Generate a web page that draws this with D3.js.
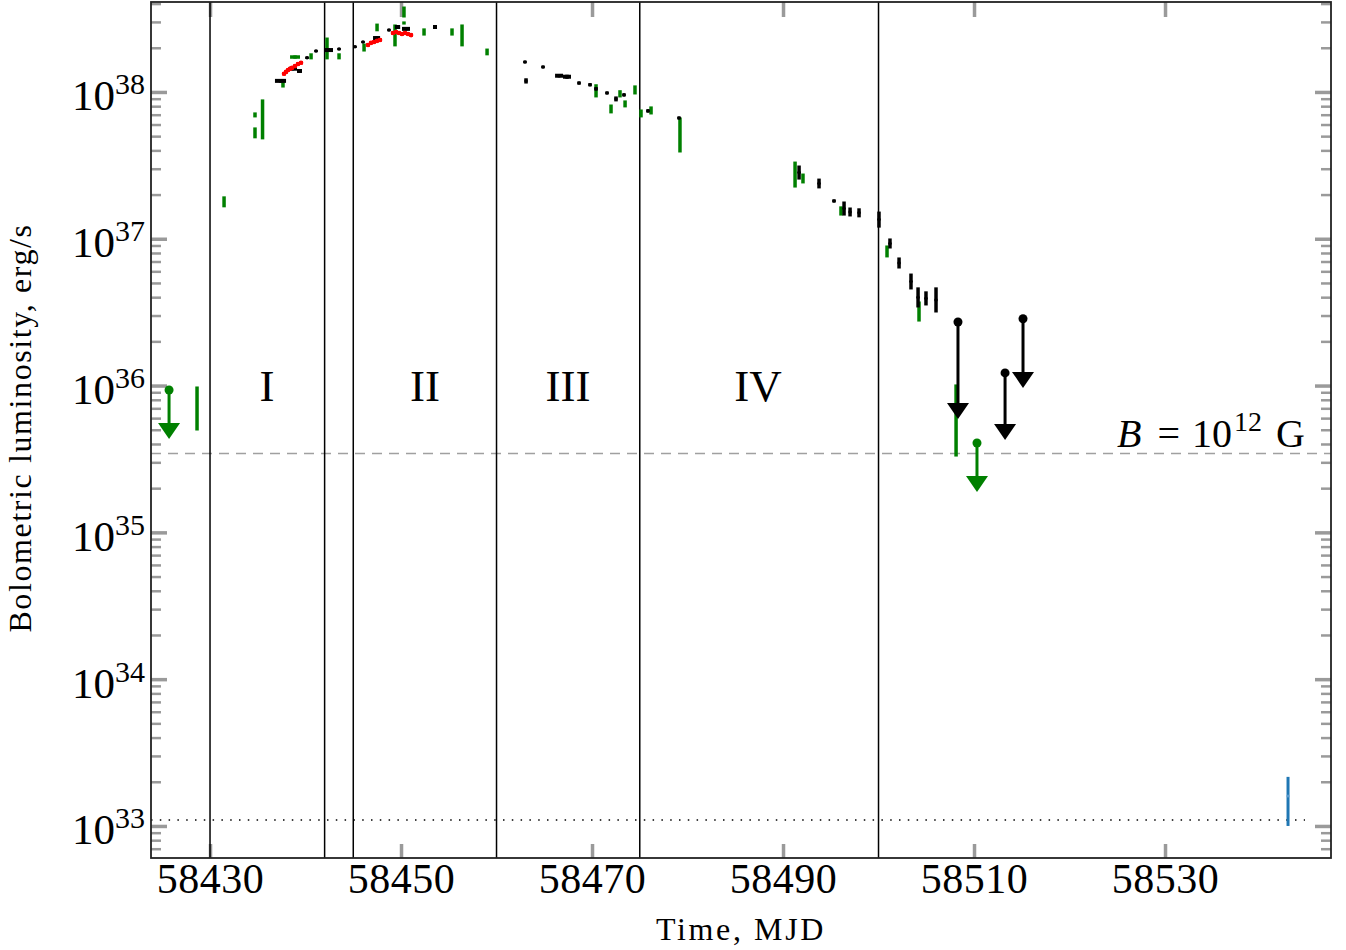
<!DOCTYPE html>
<html>
<head>
<meta charset="utf-8">
<script src="https://cdn.jsdelivr.net/npm/d3@7"></script>
<style>
body { margin: 0; background: #fff; }
#graph { width: 1346px; height: 950px; }
text { font-family: "Liberation Serif", "Times New Roman", serif; fill: #000; }
</style>
</head>
<body>
<div id="graph"></div>
<script>
// axis ranges and ticks
const xDomain = [58423.82, 58547.38];
const yDomain = [6.05e32, 4.1e38];
const xTicks = [58430, 58450, 58470, 58490, 58510, 58530];
const yDecades = [33, 34, 35, 36, 37, 38];

// outburst phases
const phaseBounds = [58430, 58442, 58445, 58460, 58475, 58500];
const phaseNames = ["I", "II", "III", "IV"];
const phaseLabelT = [58435.97, 58452.51, 58467.49, 58487.38];
const phaseLabelL = 1e36;

const bFieldL = 3.44e35;     // B = 1e12 G limit
const quiescentL = 1.1e33;   // quiescent level

// [MJD, half-width in days, L low, L high]
const greenObs = [
  [58428.64, 0, 4.98e35, 9.78e35],
  [58431.47, 0, 1.65e37, 1.93e37],
  [58434.71, 0, 6.76e37, 7.20e37],
  [58434.71, 0, 4.87e37, 5.69e37],
  [58435.50, 0, 4.79e37, 8.83e37],
  [58437.64, 0, 1.08e38, 1.19e38],
  [58438.90, 0.52, 1.70e38, 1.76e38],
  [58440.58, 0, 1.68e38, 1.82e38],
  [58442.25, 0, 1.68e38, 2.33e38],
  [58443.51, 0, 1.68e38, 1.82e38],
  [58446.13, 0, 1.90e38, 2.12e38],
  [58447.49, 0, 2.61e38, 2.90e38],
  [58449.37, 0, 2.06e38, 2.86e38],
  [58450.31, 0, 3.24e38, 3.79e38],
  [58450.31, 0, 2.90e38, 3.00e38],
  [58452.41, 0, 2.44e38, 2.69e38],
  [58455.34, 0, 2.44e38, 2.69e38],
  [58456.39, 0, 2.06e38, 2.86e38],
  [58459.01, 0, 1.79e38, 1.96e38],
  [58470.42, 0, 9.25e37, 1.12e38],
  [58471.99, 0, 7.20e37, 8.15e37],
  [58472.93, 0, 9.25e37, 1.02e38],
  [58473.46, 0, 7.91e37, 8.69e37],
  [58474.50, 0, 9.69e37, 1.10e38],
  [58475.13, 0, 6.76e37, 7.54e37],
  [58476.18, 0, 7.08e37, 7.91e37],
  [58479.21, 0, 3.90e37, 6.65e37],
  [58491.26, 0, 2.25e37, 3.33e37],
  [58492.09, 0, 2.40e37, 2.76e37],
  [58496.07, 0, 1.45e37, 1.65e37],
  [58500.89, 0, 7.52e36, 8.93e36],
  [58504.24, 0, 2.75e36, 3.71e36],
  [58508.12, 0, 3.31e35, 1.01e36]
];

const blackObs = [
  [58437.38, 0.58, 1.17e38, 1.21e38],
  [58438.69, 0.42, 1.42e38, 1.46e38],
  [58439.37, 0.26, 1.37e38, 1.41e38],
  [58440.16, 0, 1.69e38, 1.73e38],
  [58441.10, 0, 1.88e38, 1.92e38],
  [58442.41, 0.47, 1.90e38, 1.96e38],
  [58443.51, 0, 1.94e38, 1.98e38],
  [58445.18, 0, 2.01e38, 2.05e38],
  [58446.02, 0, 2.17e38, 2.21e38],
  [58447.44, 0.37, 2.30e38, 2.36e38],
  [58448.74, 0, 2.61e38, 2.67e38],
  [58449.64, 0.27, 2.74e38, 2.80e38],
  [58450.52, 0.42, 2.66e38, 2.72e38],
  [58453.56, 0.21, 2.74e38, 2.80e38],
  [58462.98, 0, 1.58e38, 1.62e38],
  [58463.09, 0, 1.15e38, 1.23e38],
  [58464.87, 0, 1.46e38, 1.50e38],
  [58466.55, 0.42, 1.27e38, 1.31e38],
  [58467.38, 0.42, 1.24e38, 1.30e38],
  [58468.64, 0, 1.13e38, 1.17e38],
  [58469.79, 0, 1.10e38, 1.14e38],
  [58470.42, 0, 1.03e38, 1.07e38],
  [58471.57, 0, 9.70e37, 1.00e38],
  [58472.51, 0, 8.69e37, 9.25e37],
  [58473.35, 0, 9.40e37, 9.70e37],
  [58475.86, 0, 7.30e37, 7.56e37],
  [58479.11, 0, 6.55e37, 6.75e37],
  [58491.68, 0, 2.55e37, 3.13e37],
  [58493.77, 0, 2.22e37, 2.55e37],
  [58495.34, 0, 1.78e37, 1.84e37],
  [58496.39, 0, 1.45e37, 1.78e37],
  [58497.02, 0, 1.43e37, 1.62e37],
  [58497.96, 0, 1.41e37, 1.60e37],
  [58500.05, 0, 1.20e37, 1.52e37],
  [58501.20, 0, 8.65e36, 9.97e36],
  [58502.15, 0, 6.32e36, 7.40e36],
  [58503.40, 0, 4.55e36, 5.75e36],
  [58504.14, 0, 3.43e36, 4.63e36],
  [58504.97, 0, 3.54e36, 4.35e36],
  [58506.02, 0, 3.17e36, 4.63e36]
];

// [MJD, L]
const redObs = [
  [58437.75, 1.33e38], [58437.96, 1.37e38], [58438.17, 1.41e38], [58438.38, 1.44e38],
  [58438.59, 1.46e38], [58438.90, 1.50e38], [58439.21, 1.55e38], [58439.53, 1.58e38],
  [58446.54, 2.09e38], [58446.86, 2.16e38], [58447.17, 2.19e38], [58447.49, 2.23e38],
  [58447.80, 2.26e38],
  [58449.16, 2.52e38], [58449.48, 2.56e38], [58449.79, 2.52e38], [58450.10, 2.48e38],
  [58450.42, 2.52e38], [58450.73, 2.48e38], [58451.05, 2.44e38]
];

// [MJD, L center, L low, L high]
const blueObs = [[58542.88, 1.60e33, 1.0e33, 2.16e33]];

// upper limits [MJD, limit, arrow end]
const greenLimits = [[58425.71, 9.33e35, 4.33e35], [58510.31, 4.06e35, 1.88e35]];
const blackLimits = [[58508.32, 2.71e36, 5.91e35], [58513.25, 1.22e36, 4.26e35], [58515.13, 2.85e36, 9.64e35]];

const GREEN = "#008000", BLUE = "#1f77b4", TICK = "#9a9a9a";

function container() { return document.querySelector("#graph"); }

const margin = {top: 2, right: 15, bottom: 92, left: 151};
const width = 1346 - margin.left - margin.right;
const height = 950 - margin.top - margin.bottom;

const x = d3.scaleLinear().domain(xDomain).range([0, width]);
const y = d3.scaleLog().domain(yDomain).range([height, 0]);

const svg = d3.select(container()).append("svg")
    .attr("width", 1346).attr("height", 950);
const g = svg.append("g").attr("transform", `translate(${margin.left},${margin.top})`);

// ticks
const majorY = yDecades.map(d => Math.pow(10, d));
const minorY = [];
for (let e = 32; e <= 38; e++) for (let m = 2; m <= 9; m++) {
    const v = m * Math.pow(10, e);
    if (v > yDomain[0] && v < yDomain[1]) minorY.push(v);
}

function styleTicks(sel, w) {
    sel.select(".domain").remove();
    sel.selectAll(".tick line").attr("stroke", TICK).attr("stroke-width", w);
}

g.append("g").call(d3.axisLeft(y).tickValues(minorY).tickSize(-10).tickFormat(""))
    .call(s => styleTicks(s, 2.5));
g.append("g").attr("transform", `translate(${width},0)`)
    .call(d3.axisRight(y).tickValues(minorY).tickSize(-10).tickFormat(""))
    .call(s => styleTicks(s, 2.5));
g.append("g").attr("transform", `translate(${width},0)`)
    .call(d3.axisRight(y).tickValues(majorY).tickSize(-16).tickFormat(""))
    .call(s => styleTicks(s, 3.5));

const yAxis = g.append("g")
    .call(d3.axisLeft(y).tickValues(majorY).tickSize(-16).tickPadding(6).tickFormat(""))
    .call(s => styleTicks(s, 3.5));
yAxis.selectAll(".tick text").each(function(d) {
    const t = d3.select(this).attr("dy", null).attr("y", 18).style("font-size", "43px");
    t.append("tspan").text("10");
    t.append("tspan").attr("dy", -16).style("font-size", "30px").text(Math.round(Math.log10(d)));
});

g.append("g").attr("transform", `translate(0,${height})`)
    .call(d3.axisBottom(x).tickValues(xTicks).tickSize(-14).tickPadding(5).tickFormat(d3.format("d")))
    .call(s => styleTicks(s, 3.5))
    .selectAll(".tick text").style("font-size", "42px").style("letter-spacing", "0.5px");
g.append("g")
    .call(d3.axisTop(x).tickValues(xTicks).tickSize(-15).tickFormat(""))
    .call(s => styleTicks(s, 3.5));

// reference lines
g.append("line")
    .attr("x1", 0).attr("x2", width)
    .attr("y1", y(bFieldL)).attr("y2", y(bFieldL))
    .attr("stroke", "#a0a0a0").attr("stroke-width", 1.5).attr("stroke-dasharray", "10,7");
g.append("line")
    .attr("x1", 0).attr("x2", width - 26)
    .attr("y1", y(quiescentL)).attr("y2", y(quiescentL))
    .attr("stroke", "#000").attr("stroke-width", 1.5).attr("stroke-dasharray", "1.5,7.3");

g.selectAll(".phase").data(phaseBounds).join("line")
    .attr("x1", d => x(d)).attr("x2", d => x(d))
    .attr("y1", 0).attr("y2", height)
    .attr("stroke", "#000").attr("stroke-width", 1.5);

g.selectAll(".phase-label").data(phaseNames).join("text")
    .attr("x", (d, i) => x(phaseLabelT[i]))
    .attr("y", y(phaseLabelL) + 15)
    .attr("text-anchor", "middle")
    .style("font-size", "45px")
    .text(d => d);

const bLabel = g.append("text")
    .attr("x", width - 26).attr("y", y(bFieldL) - 7)
    .attr("text-anchor", "end").style("font-size", "40px");
bLabel.append("tspan").style("font-style", "italic").text("B");
bLabel.append("tspan").attr("dx", 16).text("=");
bLabel.append("tspan").attr("dx", 12).text("10");
bLabel.append("tspan").attr("dy", -16).attr("dx", 2).style("font-size", "28px").text("12");
bLabel.append("tspan").attr("dy", 16).attr("dx", 14).text("G");

// error bar series
function errorBars(data, color, vw, hw, r) {
    const grp = g.append("g");
    grp.selectAll(".v").data(data).join("line")
        .attr("x1", d => x(d[0])).attr("x2", d => x(d[0]))
        .attr("y1", d => y(d[2]) + 0.5).attr("y2", d => y(d[3]) - 0.5)
        .attr("stroke", color).attr("stroke-width", vw);
    grp.selectAll(".h").data(data.filter(d => d[1] > 0)).join("line")
        .attr("x1", d => x(d[0] - d[1])).attr("x2", d => x(d[0] + d[1]))
        .attr("y1", d => y(Math.sqrt(d[2] * d[3]))).attr("y2", d => y(Math.sqrt(d[2] * d[3])))
        .attr("stroke", color).attr("stroke-width", hw);
    if (r > 0) {
        grp.selectAll("circle").data(data).join("circle")
            .attr("cx", d => x(d[0])).attr("cy", d => y(Math.sqrt(d[2] * d[3])))
            .attr("r", r).attr("fill", color);
    }
}

errorBars(greenObs, GREEN, 3.5, 3.5, 0);
errorBars(blackObs, "#000", 3.5, 4, 1.8);

const redG = g.append("g");
redG.selectAll("line").data(redObs).join("line")
    .attr("x1", d => x(d[0] - 0.2)).attr("x2", d => x(d[0] + 0.2))
    .attr("y1", d => y(d[1])).attr("y2", d => y(d[1]))
    .attr("stroke", "red").attr("stroke-width", 3.5);
redG.selectAll("circle").data(redObs).join("circle")
    .attr("cx", d => x(d[0])).attr("cy", d => y(d[1]))
    .attr("r", 2.3).attr("fill", "red");

const blueG = g.append("g");
blueG.selectAll("line").data(blueObs).join("line")
    .attr("x1", d => x(d[0])).attr("x2", d => x(d[0]))
    .attr("y1", d => y(d[2])).attr("y2", d => y(d[3]))
    .attr("stroke", BLUE).attr("stroke-width", 3);
blueG.selectAll("circle").data(blueObs).join("circle")
    .attr("cx", d => x(d[0])).attr("cy", d => y(d[1]))
    .attr("r", 1.5).attr("fill", "#5a9bd0");

// upper limits
function upperLimits(data, color) {
    const grp = g.append("g");
    grp.selectAll("line").data(data).join("line")
        .attr("x1", d => x(d[0])).attr("x2", d => x(d[0]))
        .attr("y1", d => y(d[1])).attr("y2", d => y(d[2]) - 10)
        .attr("stroke", color).attr("stroke-width", 3);
    grp.selectAll("circle").data(data).join("circle")
        .attr("cx", d => x(d[0])).attr("cy", d => y(d[1]))
        .attr("r", 4.5).attr("fill", color);
    grp.selectAll("path").data(data).join("path")
        .attr("d", d => {
            const cx = x(d[0]), ty = y(d[2]);
            return `M${cx},${ty}L${cx - 11},${ty - 16}L${cx + 11},${ty - 16}Z`;
        })
        .attr("fill", color);
}
upperLimits(greenLimits, GREEN);
upperLimits(blackLimits, "#000");

// frame
g.append("rect")
    .attr("width", width).attr("height", height)
    .attr("fill", "none").attr("stroke", "#222").attr("stroke-width", 1.8);

// titles
svg.append("text")
    .attr("x", margin.left + width / 2).attr("y", 940)
    .attr("text-anchor", "middle")
    .style("font-size", "32px").style("letter-spacing", "2.6px")
    .text("Time, MJD");
svg.append("text")
    .attr("transform", "rotate(-90)")
    .attr("x", -428).attr("y", 31)
    .attr("text-anchor", "middle")
    .style("font-size", "32px").style("letter-spacing", "1.6px")
    .text("Bolometric luminosity, erg/s");
</script>
</body>
</html>
